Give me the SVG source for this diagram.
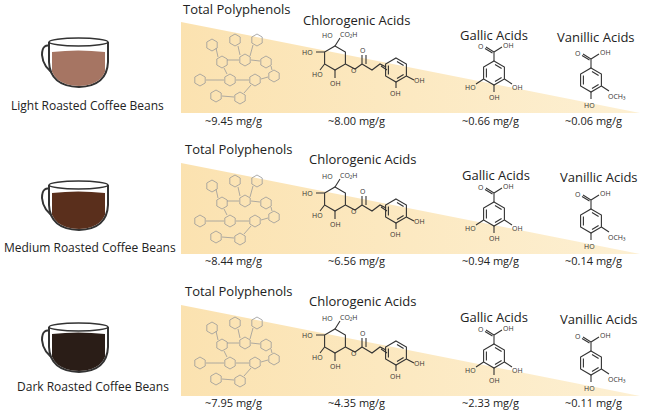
<svg xmlns="http://www.w3.org/2000/svg" xmlns:xlink="http://www.w3.org/1999/xlink" width="646" height="414" viewBox="0 0 646 414">
<defs>
<style>
text{font-family:"Open Sans","Liberation Sans",sans-serif;fill:#222}
.t{font-size:13px}
.v{font-size:11px}
.c{font-size:12px}
.m{stroke:#333;stroke-width:1.1;fill:none}
.p{stroke:#999;stroke-width:0.8;fill:none}
.l{font-size:7px;fill:#333}
.cup{fill:#fff;stroke:#333;stroke-width:2}
</style>
<linearGradient id="g" x1="0" x2="1" y1="0" y2="0">
<stop offset="0" stop-color="#fbe2b0"/><stop offset="1" stop-color="#fdf0d3"/>
</linearGradient>
<path id="hx" d="M0,-12L10.4,-6L10.4,6L0,12L-10.4,6L-10.4,-6Z"/>
<path id="ar" d="M0,-12L10.4,-6L10.4,6L0,12L-10.4,6L-10.4,-6ZM1,-8.5L7.6,-4.5M7.6,4.5L1,8.5M-7.6,4.5L-7.6,-4.5"/>
<path id="sh" d="M0,-6L5.2,-3L5.2,3L0,6L-5.2,3L-5.2,-3Z"/>
<g id="poly" class="p">
<use href="#sh" x="212" y="45"/><use href="#sh" x="235" y="40"/><use href="#sh" x="257" y="40"/>
<use href="#sh" x="222" y="62"/><use href="#sh" x="245" y="60"/><use href="#sh" x="266" y="62"/>
<use href="#sh" x="200" y="80"/><use href="#sh" x="230" y="80"/><use href="#sh" x="255" y="80"/><use href="#sh" x="274" y="76"/>
<use href="#sh" x="240" y="98"/><use href="#sh" x="216" y="96"/>
<path d="M216,48L218,57M227,60L239,60M240,55L238,46M250,56L253,45M251,60L260,61M271,66L272,70M224,68L227,74M224,80L206,80M236,80L249,80M251,85L244,93M234,97L222,96M261,79L268,77"/>
</g>
<g id="chl">
<use href="#hx" x="335" y="58" class="m"/>
<path class="m" d="M335,46L340,38M345.4,64L355,69L362,64M362,64L362,55M366,64L366,55M362,64L372,70L380,64L386,67M381,66L387,70M324.6,52L316,52M324.6,64L320,70M335,70L335,78"/>
<use href="#ar" x="396" y="70" class="m"/>
<path class="m" d="M406.4,76L414,80M396,82L396,88"/>
<text class="l" x="322" y="38">HO</text><text class="l" x="340" y="37">CO₂H</text>
<text class="l" x="302" y="55">HO</text><text class="l" x="312" y="77">HO</text><text class="l" x="330" y="86">OH</text>
<text class="l" x="351" y="73">O</text><text class="l" x="360" y="53">O</text>
<text class="l" x="414" y="83">OH</text><text class="l" x="390" y="96">OH</text>
</g>
<g id="gal">
<use href="#ar" x="494" y="73" class="m"/>
<path class="m" d="M494,61L494,52L486,47M494,52L502,47M492.5,53L485,48.5M483.6,79L476,84M504.4,79L512,84M494,85L494,92"/>
<text class="l" x="478" y="49">O</text><text class="l" x="503" y="48">OH</text>
<text class="l" x="465" y="90">HO</text><text class="l" x="512" y="90">OH</text><text class="l" x="489" y="100">OH</text>
</g>
<g id="van">
<use href="#ar" x="591" y="80" class="m"/>
<path class="m" d="M591,68L591,59L583,54M591,59L599,54M589.5,60L582,55.5M601.4,86L609,91M591,92L591,99"/>
<text class="l" x="575" y="56">O</text><text class="l" x="600" y="55">OH</text>
<text class="l" x="608" y="99">OCH₃</text><text class="l" x="584" y="108">HO</text>
</g>
<g id="cupbase">
<path class="cup" d="M53,47 Q42,42 42,55 Q43,68 56,75" fill="none"/>
<path class="cup" d="M49,42 L49,62 Q50,86 79,87 Q107,86 108,62 L108,42"/>
<ellipse cx="78.5" cy="42" rx="29.5" ry="4" fill="#fff" stroke="#333" stroke-width="1.5"/>
</g>
<clipPath id="cc"><path d="M50,42 L50,62 Q51,85 79,86 Q106,85 107,62 L107,42Z"/></clipPath>
</defs>
<rect width="646" height="414" fill="#fff"/>

<g id="row1">
<polygon points="181,22 640,113 181,113" fill="url(#g)"/>
<use href="#poly"/>
<g id="cup1"><use href="#cupbase"/><g clip-path="url(#cc)"><path d="M52,52 Q78,49 105,52 L105,90 L52,90Z" fill="#a67563"/></g></g>
<use href="#chl"/><use href="#gal"/><use href="#van"/>
<text class="t" x="183" y="14">Total Polyphenols</text>
<text class="t" x="303" y="25">Chlorogenic Acids</text>
<text class="t" x="460" y="40">Gallic Acids</text>
<text class="t" x="557" y="42">Vanillic Acids</text>
<text class="c" x="11" y="110">Light Roasted Coffee Beans</text>
<text class="v" x="205" y="125">~9.45 mg/g</text>
<text class="v" x="328" y="125">~8.00 mg/g</text>
<text class="v" x="462" y="125">~0.66 mg/g</text>
<text class="v" x="565" y="125">~0.06 mg/g</text>
</g>

<g id="row2" transform="translate(0,141)">
<polygon points="181,22 640,113 181,113" fill="url(#g)"/>
<use href="#poly"/>
<g id="cup2" transform="translate(0,2)"><use href="#cupbase"/><g clip-path="url(#cc)"><path d="M52,50 Q78,47 105,50 L105,90 L52,90Z" fill="#5a2f1c"/></g></g>
<use href="#chl"/><use href="#gal"/><use href="#van"/>
<text class="t" x="185" y="13">Total Polyphenols</text>
<text class="t" x="309" y="23">Chlorogenic Acids</text>
<text class="t" x="462" y="39">Gallic Acids</text>
<text class="t" x="560" y="41">Vanillic Acids</text>
<text class="c" x="4" y="111">Medium Roasted Coffee Beans</text>
<text class="v" x="205" y="124">~8.44 mg/g</text>
<text class="v" x="328" y="124">~6.56 mg/g</text>
<text class="v" x="462" y="124">~0.94 mg/g</text>
<text class="v" x="565" y="124">~0.14 mg/g</text>
</g>

<g id="row3" transform="translate(0,283)">
<polygon points="181,22 640,113 181,113" fill="url(#g)"/>
<use href="#poly"/>
<g id="cup3" transform="translate(0,2)"><use href="#cupbase"/><g clip-path="url(#cc)"><path d="M52,49 Q78,46 105,49 L105,90 L52,90Z" fill="#2a1d17"/></g></g>
<use href="#chl"/><use href="#gal"/><use href="#van"/>
<text class="t" x="185" y="13">Total Polyphenols</text>
<text class="t" x="309" y="23">Chlorogenic Acids</text>
<text class="t" x="460" y="39">Gallic Acids</text>
<text class="t" x="560" y="41">Vanillic Acids</text>
<text class="c" x="17" y="108">Dark Roasted Coffee Beans</text>
<text class="v" x="205" y="124">~7.95 mg/g</text>
<text class="v" x="328" y="124">~4.35 mg/g</text>
<text class="v" x="462" y="124">~2.33 mg/g</text>
<text class="v" x="565" y="124">~0.11 mg/g</text>
</g>
<g id="connectors"/>
</svg>
